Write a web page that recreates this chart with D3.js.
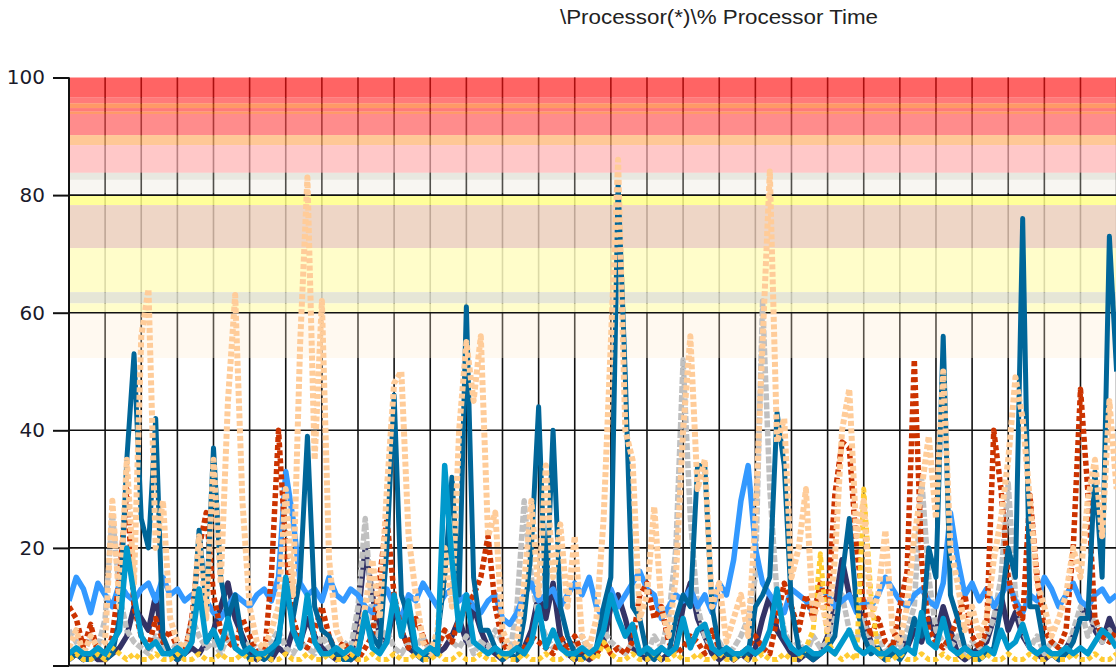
<!DOCTYPE html>
<html>
<head>
<meta charset="utf-8">
<script src="https://d3js.org/d3.v7.min.js"></script>
<style>
  html, body { margin: 0; padding: 0; background: #fff; }
  svg { display: block; }
</style>
</head>
<body>
<div id="chart"></div>
<script>
// % Processor Time, one sample per index
var yTicks = [0, 20, 40, 60, 80, 100];
var yLabels = ["", "20", "40", "60", "80", "100"];
var title = "\\Processor(*)\\% Processor Time";

// threshold bands (low, high) on the value axis
var bandLow  = [96.6, 95.6, 94.8, 94.2, 93.8, 90.2, 88.5, 83.8, 82.6, 80.3, 78.3, 71, 63.5, 61.6, 60, 52.3];
var bandHigh = [100, 96.6, 95.6, 94.8, 94.2, 93.8, 90.2, 88.5, 83.8, 82.6, 80, 78.3, 71, 63.5, 61.6, 60];

var peach = [3,6,2,5,3,4,28,10,35,14, 56,64,20,28,8,4,3,6,22,8, 35,14,45,63,28,10,4,3,6,10,
  30,12,55,83,35,62,18,6,3,2, 4,10,18,8,30,48,50,22,12,4, 2,6,20,10,40,55,45,56,22,26,
  6,3,4,14,28,12,34,15,24,10, 22,5,3,8,25,55,86,40,35,8, 12,27,10,5,15,40,56,30,35,10,
  14,4,8,12,5,25,55,84,38,42, 15,20,30,8,12,6,18,40,47,22, 28,8,12,23,6,4,10,22,30,39,
  25,50,20,14,6,10,5,8,18,25, 35,49,42,28,14,10,5,8,12,20, 15,28,35,22,45,30];
var teal = [1,2,1,1,2,1,2,8,35,53, 25,20,42,5,2,1,2,4,23,10, 37,15,8,12,4,1,2,1,2,5,
  12,8,15,39,10,6,5,2,1,1, 2,8,5,3,20,46,12,8,2,1, 2,5,15,32,12,61,15,6,6,3,
  1,2,1,8,20,44,10,40,10,5, 2,1,2,3,10,15,82,49,10,8, 2,1,3,2,8,12,10,34,34,10,
  3,2,1,2,2,10,12,15,43,34, 10,3,2,1,2,3,5,15,25,10, 5,2,3,1,2,1,3,8,5,20,
  15,56,12,8,3,2,1,2,3,10, 20,15,76,10,10,3,2,1,2,4, 8,8,33,15,73,50];
var orange = [10,8,3,7,2,1,5,15,30,10, 5,3,8,4,6,3,2,8,20,26, 12,6,4,3,8,5,2,1,15,40,
  20,8,4,3,6,10,5,2,4,2, 1,3,5,15,25,12,6,3,8,5, 2,3,6,4,8,10,12,15,22,10,
  4,2,1,3,5,4,3,2,5,3, 5,2,1,2,4,2,3,2,4,12, 14,8,10,4,2,3,5,4,2,6,
  3,2,1,2,3,5,3,2,8,14, 10,6,12,8,14,10,29,38,37,20, 10,5,8,4,3,10,16,52,18,6,
  4,3,5,8,12,5,3,6,40,30, 15,10,8,29,15,6,4,3,6,20, 47,30,8,5,4,6];
var lightBlue = [11,15,13,9,14,12,10,14,12,11, 13,14,11,15,12,13,11,12,10,11, 9,8,10,12,11,10,12,13,11,15,
  33,25,14,12,13,11,15,12,11,13, 12,10,9,11,13,10,8,12,11,14, 12,10,12,13,11,12,10,9,11,12,
  8,7,9,12,14,11,12,13,10,12, 14,12,15,10,8,13,10,12,14,16, 13,12,8,10,12,11,13,10,12,9,
  14,12,18,28,34,20,14,12,10,9, 13,12,11,9,13,12,10,11,12,9, 11,10,12,15,13,11,10,12,13,11,
  10,14,26,18,12,14,11,13,10,12, 14,11,9,12,11,15,13,10,12,14, 11,10,12,13,11,12];
var cyan = [2,3,2,2,3,2,4,6,20,12, 5,3,4,2,2,3,2,4,13,4, 6,3,8,3,2,3,2,2,3,4,
  15,6,3,12,4,2,2,3,2,3, 2,9,3,2,4,12,5,11,3,2, 3,2,34,18,6,12,4,3,2,3,
  2,2,3,2,4,10,3,6,3,2, 2,3,2,3,6,12,8,5,7,2, 3,2,3,2,3,8,3,6,7,3,
  2,3,2,2,3,2,3,6,13,5, 3,2,3,2,2,3,2,4,6,3, 2,3,2,2,3,2,3,2,9,4,
  3,8,3,2,3,2,2,3,2,6, 3,4,7,3,2,3,2,2,3,2, 3,2,4,6,5,3];
var navy = [1,2,1,2,1,1,2,3,5,10, 8,6,12,4,2,1,2,3,2,4, 6,10,14,8,5,2,1,2,1,3,
  2,6,4,8,5,3,2,1,2,1, 8,20,12,5,4,10,6,3,2,1, 2,2,3,5,8,4,10,6,3,2,
  1,2,1,3,6,12,8,14,5,2, 1,2,1,2,4,10,12,8,3,2, 1,2,1,2,3,10,14,8,5,2,
  1,2,1,2,1,3,8,12,6,4, 2,1,2,1,2,5,10,18,12,10, 8,4,2,1,3,5,3,6,4,8,
  5,10,6,2,1,2,3,4,8,12, 6,9,5,3,2,1,2,1,3,5, 8,10,6,4,8,5];
var gray = [6,4,2,5,3,8,26,12,6,4, 3,2,5,3,2,4,2,8,5,3, 4,2,5,3,2,4,3,2,4,6,
  3,2,4,3,2,5,3,2,4,3, 10,25,8,4,6,3,2,4,3,5, 2,3,6,4,3,5,2,4,3,6,
  4,2,10,28,15,8,5,3,4,2, 3,5,2,3,6,4,3,2,4,3, 2,5,3,8,20,52,25,10,5,3,
  4,2,3,5,8,15,62,30,12,6, 3,4,2,5,3,4,8,12,6,4, 8,3,5,2,4,3,6,10,32,15,
  6,4,3,5,2,4,3,5,8,15, 31,12,6,3,5,2,4,3,2,6, 10,5,8,4,6,3];
var gold = [1,2,1,1,2,1,3,2,1,2, 1,1,2,1,1,2,1,1,2,1, 1,2,1,1,2,1,1,2,1,1,
  2,1,1,2,1,1,2,1,1,2, 1,1,2,1,1,2,1,1,2,1, 1,2,1,1,2,1,1,2,1,1,
  2,1,1,2,1,1,2,1,1,2, 1,1,2,1,4,2,1,1,2,1, 1,2,1,1,2,1,1,2,1,1,
  2,1,1,2,1,1,2,1,1,2, 1,1,3,6,19,4,2,1,2,1, 30,12,2,1,1,2,1,1,2,1,
  1,2,1,1,2,1,1,2,1,1, 2,1,1,2,1,1,2,1,1,2, 1,1,2,1,1,2];

// observed band colour + how much the grid shows through
var bandColor = ["#ff6464","#ff7a7a","#ff9966","#ff7a7a","#ff9966","#ff8c8c","#ffc896","#ffc8c8",
  "#e8e8e0","#f8f6f2","#ffff99","#eed6c6","#fffdca","#e6e6d6","#fffdca","#fff9f0"];
var bandAlpha = [0.65,0.65,0.65,0.65,0.65,0.65,0.7,0.7, 0.35,0.3,0.85,0.8,0.85,0.85,0.85,0.3];

function bandFill(hex, a) {
  var c = d3.rgb(hex);
  return d3.rgb(255 - (255 - c.r)/a, 255 - (255 - c.g)/a, 255 - (255 - c.b)/a).formatHex();
}

function drawChart(divSelector) {
  var width = 1116, height = 668;
  var left = 69, top = 77.5, bottom = 665.5;
  var n = peach.length;

  var svg = d3.select(divSelector).append("svg")
    .attr("width", width)
    .attr("height", height);

  var x = d3.scaleLinear().domain([0, n - 1]).range([left, 1116.6]);
  var y = d3.scaleLinear().domain([0, 100]).range([bottom, top]);

  svg.append("defs").append("clipPath")
      .attr("id", "plotclip")
    .append("rect")
      .attr("x", left)
      .attr("y", top)
      .attr("width", width - left)
      .attr("height", bottom - top);

  // vertical grid every 5 samples, under the bands
  var gridIdx = d3.range(0, n, 5);
  svg.append("g").selectAll("line")
    .data(gridIdx)
    .join("line")
      .attr("x1", function(d) { return x(d); })
      .attr("x2", function(d) { return x(d); })
      .attr("y1", top)
      .attr("y2", bottom)
      .style("stroke", "#111")
      .style("stroke-width", 1.6);

  svg.append("g").selectAll("rect")
    .data(bandLow)
    .join("rect")
      .attr("x", left + 1)
      .attr("width", width - left)
      .attr("y", function(d, i) { return y(bandHigh[i]); })
      .attr("height", function(d, i) { return y(d) - y(bandHigh[i]); })
      .style("fill", function(d, i) { return bandFill(bandColor[i], bandAlpha[i]); })
      .style("fill-opacity", function(d, i) { return bandAlpha[i]; });

  // horizontal grid
  svg.append("g").selectAll("line")
    .data(yTicks.filter(function(d) { return d > 0 && d < 100; }))
    .join("line")
      .attr("x1", left)
      .attr("x2", width)
      .attr("y1", function(d) { return y(d); })
      .attr("y2", function(d) { return y(d); })
      .style("stroke", "#111")
      .style("stroke-width", 1.6);

  var line = d3.line()
    .x(function(d, i) { return x(i); })
    .y(function(d) { return y(d); });

  var series = [
    {v: navy, color: "#333366", w: 5.5, dash: null},
    {v: gray, color: "#c0c0c0", w: 5.5, dash: "7,2"},
    {v: lightBlue, color: "#3399ff", w: 5.5, dash: null},
    {v: orange, color: "#cc3300", w: 5.5, dash: "5,3"},
    {v: teal, color: "#006699", w: 5, dash: null},
    {v: gold, color: "#ffcc33", w: 5, dash: "5,3"},
    {v: peach, color: "#ffcc99", w: 6, dash: "5,2.5"},
    {v: cyan, color: "#0099cc", w: 5.5, dash: null}
  ];

  var plot = svg.append("g").attr("clip-path", "url(#plotclip)");
  series.forEach(function(s) {
    plot.append("path")
      .attr("d", line(s.v))
      .style("fill", "none")
      .style("stroke", s.color)
      .style("stroke-width", s.w)
      .style("stroke-linejoin", "round")
      .style("stroke-dasharray", s.dash);
  });

  // axes
  svg.append("line")
    .attr("x1", left).attr("x2", left)
    .attr("y1", top).attr("y2", bottom)
    .style("stroke", "#111").style("stroke-width", 2);
  svg.append("line")
    .attr("x1", left).attr("x2", width)
    .attr("y1", bottom).attr("y2", bottom)
    .style("stroke", "#111").style("stroke-width", 2);

  var yAxis = d3.axisLeft(y).tickValues(yTicks).tickSize(16).tickPadding(8)
    .tickFormat(function(d, i) { return yLabels[i]; });
  var ax = svg.append("g")
    .attr("transform", "translate(" + left + ",0)")
    .call(yAxis);
  ax.select(".domain").remove();
  ax.selectAll(".tick line").style("stroke", "#111").style("stroke-width", 2);
  ax.selectAll(".tick text")
    .style("font-family", "'DejaVu Sans', Verdana, sans-serif")
    .style("font-size", "20px")
    .style("fill", "#1a1a2a");

  svg.append("text")
    .attr("x", 719)
    .attr("y", 24)
    .attr("text-anchor", "middle")
    .attr("textLength", 318)
    .attr("lengthAdjust", "spacingAndGlyphs")
    .style("font-family", "'Liberation Sans', Arial, sans-serif")
    .style("font-size", "20px")
    .style("fill", "#222")
    .text(title);
}

drawChart("#chart");
</script>
</body>
</html>
